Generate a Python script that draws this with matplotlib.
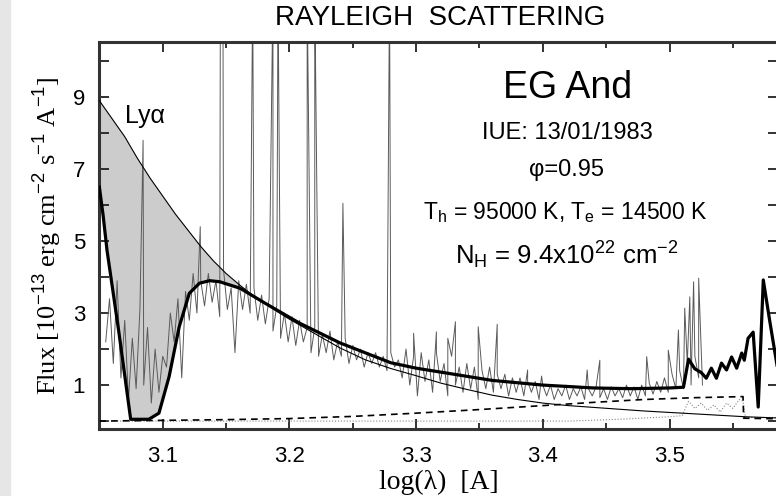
import numpy as np
import matplotlib
matplotlib.use("Agg")
import matplotlib.pyplot as plt
from matplotlib.patches import Rectangle
from matplotlib.ticker import MultipleLocator, FuncFormatter

plt.rcParams['mathtext.fontset'] = 'custom'
plt.rcParams['mathtext.rm'] = 'Liberation Sans'
plt.rcParams['mathtext.it'] = 'Liberation Sans:italic'
plt.rcParams['font.family'] = ['Liberation Sans', 'DejaVu Sans']
plt.rcParams['xtick.labelsize'] = 16
plt.rcParams['ytick.labelsize'] = 16

# --- observed IUE spectrum (log lambda grid start/step, flux values) ---
spec_start = 3.055
spec_step = 0.003
spec_flux = [
    2.2, 3.4, 1.6, 3.9, 1.2, 2.8, 0.6, 2.3, 0.9, 3.1, 1.0, 2.6, 0.5, 2.0, 0.8, 1.8,
    1.5, 3.0, 2.2, 3.4, 1.2, 3.6, 2.8, 4.1, 3.0, 3.9, 3.2, 4.1, 3.3, 3.9, 2.9, 4.2,
    3.1, 3.7, 1.9, 3.9, 3.1, 3.8,
    3.0, 3.7, 2.8, 3.5, 2.7, 3.4, 2.5, 3.2, 2.3, 3.0, 2.2, 2.9, 2.1, 2.8, 2.2, 2.6,
    1.9, 2.6, 1.8, 2.4, 1.9, 2.5, 1.7, 2.2, 1.8, 2.3, 1.6, 2.1, 1.7, 2.0, 1.5, 1.9,
    1.6, 1.9, 1.5, 1.8, 1.4, 1.9, 1.5, 1.7,
    1.2, 2.0, 1.0, 1.8, 0.7, 1.9, 1.1, 1.7, 0.8, 1.9, 1.1, 1.6, 0.7, 1.8, 1.0, 1.5,
    0.8, 1.6, 0.9, 1.5, 0.6, 1.4, 0.9, 1.5, 0.8, 1.3, 0.9, 1.3, 0.7, 1.2, 0.8, 1.2,
    0.7, 1.1, 0.8, 1.1, 0.6, 1.0, 0.7, 1.0, 0.6, 0.9, 0.7, 1.0, 0.6, 0.9, 0.7, 0.95,
    0.6, 0.9, 0.7, 0.95, 0.65, 0.9, 0.6, 0.95, 0.7, 0.9, 0.65, 1.0, 0.7, 0.95, 0.6, 1.0,
    0.7, 1.05, 0.75, 1.1, 0.8, 1.2, 0.8, 1.3, 0.9, 1.4, 0.9, 1.6, 1.0, 1.8, 1.2, 1.0,
]
# emission lines (log lambda, peak flux); 12 = off the top of the plot
line_x = [3.0845, 3.1296, 3.1455, 3.1475, 3.171, 3.187, 3.191, 3.214, 3.220, 3.2422,
          3.279, 3.298, 3.316, 3.325, 3.331, 3.349, 3.364, 3.388, 3.399, 3.435,
          3.445, 3.482, 3.499, 3.507, 3.512, 3.516, 3.519, 3.523]
line_peak = [7.8, 5.4, 12, 12, 12, 12, 12, 12, 12, 6.05,
             12, 2.44, 2.48, 2.3, 2.76, 2.62, 2.69, 1.42, 1.25, 1.42,
             1.69, 1.79, 1.97, 2.53, 3.14, 3.45, 3.87, 3.97]

# --- unattenuated hot component (thin solid) ---
hot_x = [3.05, 3.06, 3.07, 3.08, 3.09, 3.10, 3.11, 3.12, 3.13, 3.14, 3.15, 3.16, 3.17,
         3.18, 3.19, 3.20, 3.22, 3.24, 3.26, 3.28, 3.30, 3.32, 3.34, 3.36, 3.38, 3.40,
         3.42, 3.44, 3.46, 3.48, 3.50, 3.52, 3.54, 3.56, 3.59]
hot_f = [8.9, 8.4, 7.9, 7.3, 6.75, 6.25, 5.75, 5.3, 4.85, 4.45, 4.1, 3.8, 3.52,
         3.28, 3.05, 2.83, 2.43, 2.03, 1.7, 1.46, 1.26, 1.05, 0.88, 0.72, 0.6, 0.5,
         0.43, 0.38, 0.33, 0.28, 0.24, 0.2, 0.16, 0.12, 0.08]

# --- total model with Rayleigh scattering (thick) ---
model_x = [3.05, 3.053, 3.056, 3.0655, 3.0747, 3.089, 3.097, 3.105, 3.113, 3.121, 3.129,
           3.137, 3.145, 3.161, 3.181, 3.208, 3.24, 3.28, 3.30, 3.33, 3.36, 3.40, 3.44,
           3.47, 3.50, 3.511, 3.515, 3.520, 3.525, 3.529, 3.533, 3.537, 3.541, 3.545,
           3.549, 3.553, 3.557, 3.559, 3.562, 3.566, 3.570, 3.574, 3.579, 3.586]
model_f = [6.5, 5.7, 4.75, 2.44, 0.05, 0.05, 0.22, 1.23, 2.62, 3.55, 3.83,
           3.9, 3.87, 3.69, 3.27, 2.72, 2.17, 1.62, 1.47, 1.3, 1.13, 1.0, 0.92,
           0.9, 0.92, 0.94, 1.72, 1.45, 1.35, 1.19, 1.47, 1.19, 1.61, 1.42,
           1.78, 1.47, 1.89, 1.69, 2.3, 2.47, 0.39, 3.92, 2.8, 1.3]

# --- nebular component (dashed) ---
neb_x = [3.05, 3.10, 3.15, 3.20, 3.25, 3.30, 3.35, 3.40, 3.44, 3.48, 3.52, 3.558, 3.5585, 3.59]
neb_f = [0.0, 0.02, 0.04, 0.07, 0.13, 0.22, 0.32, 0.43, 0.52, 0.6, 0.65, 0.68, 0.08, 0.06]

# --- giant component (dotted) ---
giant_x = [3.05, 3.42, 3.46, 3.50, 3.51, 3.515, 3.52, 3.525, 3.53, 3.535, 3.54, 3.545,
           3.55, 3.555, 3.558, 3.56, 3.59]
giant_f = [0.0, 0.0, 0.05, 0.12, 0.15, 0.55, 0.35, 0.5, 0.3, 0.45, 0.25, 0.5,
           0.35, 0.6, 0.55, 0.1, 0.1]

W, H = 776, 496
fig = plt.figure(figsize=(W / 100, H / 100), dpi=100)
fig.patches.append(Rectangle((0, 0), 10 / W, 1, transform=fig.transFigure,
                             color='#e6e6e6', zorder=0))
ax = fig.add_axes([99 / W, (H - 429) / H, 679 / W, (429 - 42) / H])

# observed spectrum with the emission lines merged in
sx = spec_start + spec_step * np.arange(len(spec_flux))
ox = np.concatenate([sx, line_x])
oy = np.concatenate([spec_flux, line_peak])
order = np.argsort(ox, kind='stable')
ox, oy = ox[order], oy[order]

# grey band between unattenuated and attenuated hot continuum
grid = np.linspace(3.05, 3.2, 400)
g_hot = np.interp(grid, hot_x, hot_f)
g_mod = np.interp(grid, model_x, model_f)
ax.fill_between(grid, g_mod, g_hot, where=g_hot > g_mod, color='#cccccc', lw=0, zorder=1)

ax.plot(ox, oy, color='#5a5a5a', lw=0.7, zorder=2)
ax.plot(giant_x, giant_f, color='#888888', lw=0.8, ls=':', zorder=3)
ax.plot(neb_x, neb_f, color='black', lw=1.2, ls=(0, (4, 3)), zorder=3)
ax.plot(hot_x, hot_f, color='black', lw=0.8, zorder=4)
ax.plot(model_x, model_f, color='black', lw=2.3, zorder=5, solid_joinstyle='round')

ax.set_xlim(3.0497, 3.0497 + 679 / 1267)
ax.set_ylim(-0.22, 10.53)
ax.xaxis.set_major_locator(MultipleLocator(0.1))
ax.xaxis.set_minor_locator(MultipleLocator(0.05))
ax.yaxis.set_major_locator(MultipleLocator(1))
ax.xaxis.set_major_formatter(FuncFormatter(lambda v, p: f"{v:.1f}"))
ax.yaxis.set_major_formatter(FuncFormatter(lambda v, p: f"{int(round(v))}" if int(round(v)) % 2 == 1 else ""))
ax.tick_params(which='both', direction='in', top=True, right=True, width=1.3, color='#222222')
ax.tick_params(which='major', length=7)
ax.tick_params(axis='x', which='major', pad=12)
ax.tick_params(axis='y', which='major', pad=10)
ax.tick_params(which='minor', length=4)
for s in ax.spines.values():
    s.set_linewidth(2.2)
    s.set_color('#333333')

ax.set_xlabel("log(λ)  [A]", family='Liberation Serif', fontsize=20, labelpad=2)
ax.set_ylabel("Flux [10$^{-13}$ erg cm$^{-2}$ s$^{-1}$ A$^{-1}$]", family='Liberation Serif',
              fontsize=19, labelpad=6)
fig.text(440 / W, 1 - 18 / H, "RAYLEIGH  SCATTERING", ha='center', va='center', fontsize=20)

def at(px, py, s, size):
    ax.text(px / W, 1 - py / H, s, transform=fig.transFigure, ha='center', va='center', fontsize=size)

at(145, 116, "Lyα", 18)
at(568, 88, "EG And", 27)
at(567, 133, "IUE: 13/01/1983", 17)
at(567, 170, "φ=0.95", 17)
at(565, 213, "T$_{\\rm h}$ = 95000 K, T$_{\\rm e}$ = 14500 K", 16.5)
at(567, 255, "N$_{\\rm H}$ = 9.4x10$^{22}$ cm$^{-2}$", 18.5)

fig.savefig("out.png", dpi=100)
